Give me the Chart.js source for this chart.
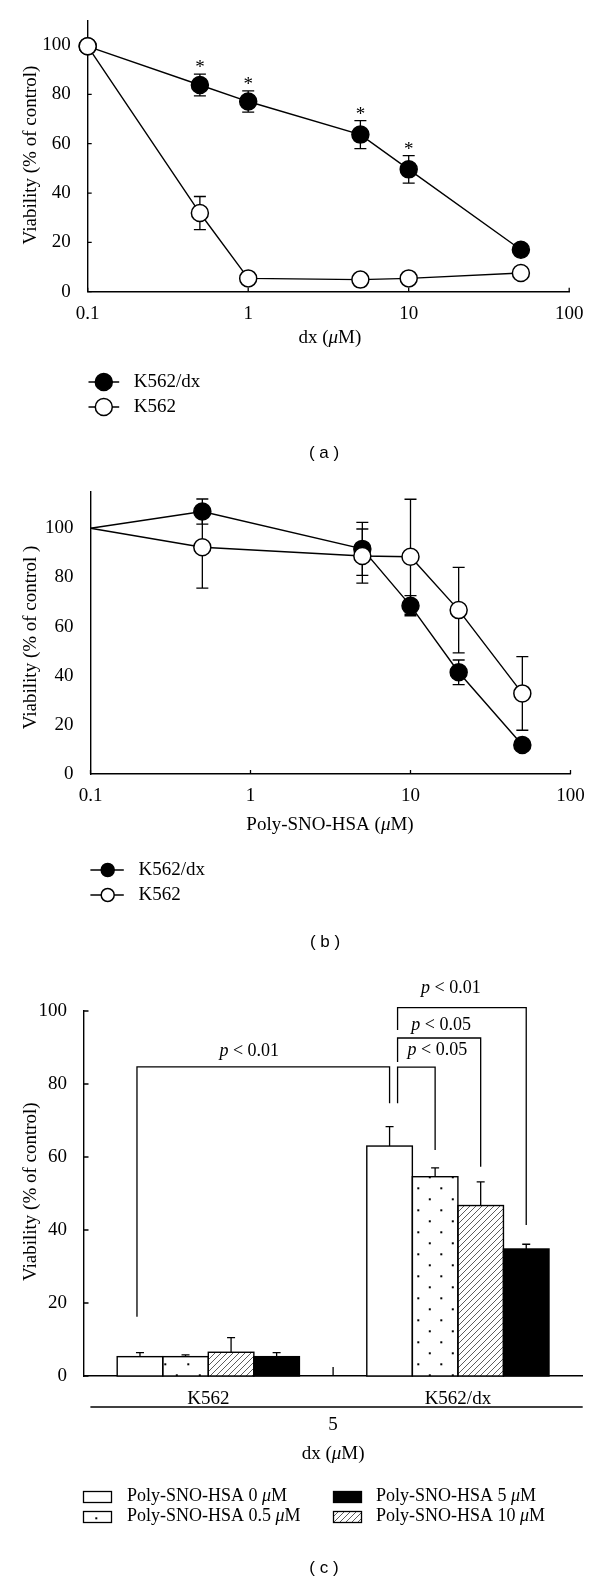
<!DOCTYPE html>
<html>
<head>
<meta charset="utf-8">
<script src="https://cdn.jsdelivr.net/npm/chart.js@4.4.0/dist/chart.umd.min.js"></script>
<style>
body { margin: 0; background: #fff; width: 600px; height: 1584px; position: relative; }
canvas { position: absolute; left: 0; }
</style>
</head>
<body>
<canvas id="graficoA" width="600" height="470" style="top:0px"></canvas>
<canvas id="graficoB" width="600" height="480" style="top:470px"></canvas>
<canvas id="graficoC" width="600" height="634" style="top:950px"></canvas>
<script>
// (a) dx
var dosesA = [0.1, 0.5, 1, 5, 10, 50];
var k562dxA = [99.5, 83.8, 77.1, 63.7, 49.6, 17.0];
var k562dxErroA = [0, 4.4, 4.3, 5.7, 5.6, 0];
var k562A = [99.5, 31.9, 5.4, 4.9, 5.4, 7.6];
var k562ErroA = [0, 6.7, 0, 0, 0, 0];
var estrelasA = [false, true, true, true, true, false];

// (b) Poly-SNO-HSA
var dosesB = [0.1, 0.5, 5, 10, 20, 50];
var k562dxB = [100, 106.8, 91.6, 68.5, 41.4, 11.8];
var k562dxErroB = [0, 5.1, 10.8, 4.1, 5, 0];
var k562B = [100, 92.3, 88.7, 88.4, 66.7, 32.8];
var k562ErroB = [0, 16.7, 11, 23.4, 17.4, 15];

// (c) barras
var linhasC = ['K562', 'K562/dx'];
var sno0 = [5.3, 63.0];
var sno05 = [5.3, 54.6];
var sno10 = [6.5, 46.7];
var sno5 = [5.3, 34.8];
var sno0Erro = [1.1, 5.3];
var sno05Erro = [0.5, 2.4];
var sno10Erro = [4.0, 6.5];
var sno5Erro = [1.1, 1.3];

var ticksLog = [0.1, 1, 10, 100];
var ticksY = [0, 20, 40, 60, 80, 100];

var serif = '"Liberation Serif", "Times New Roman", serif';
var sans = '"Liberation Sans", Arial, sans-serif';

function pares(xs, ys) {
    return xs.map(function (x, i) { return { x: x, y: ys[i] }; });
}

function textoRico(ctx, partes, x, y, tam, alinhar) {
    var total = 0;
    partes.forEach(function (p) {
        ctx.font = (p[1] ? 'italic ' : '') + tam + 'px ' + serif;
        total += ctx.measureText(p[0]).width;
    });
    var cx = alinhar === 'center' ? x - total / 2 : x;
    ctx.textAlign = 'left';
    ctx.textBaseline = 'middle';
    ctx.fillStyle = '#000';
    partes.forEach(function (p) {
        ctx.font = (p[1] ? 'italic ' : '') + tam + 'px ' + serif;
        ctx.fillText(p[0], cx, y);
        cx += ctx.measureText(p[0]).width;
    });
}

function tituloVertical(ctx, texto, x, y) {
    ctx.save();
    ctx.translate(x, y);
    ctx.rotate(-Math.PI / 2);
    ctx.font = '19px ' + serif;
    ctx.fillStyle = '#000';
    ctx.textAlign = 'center';
    ctx.textBaseline = 'middle';
    ctx.fillText(texto, 0, 0);
    ctx.restore();
}

function rotuloPainel(ctx, texto, x, y) {
    ctx.font = '17px ' + sans;
    ctx.fillStyle = '#000';
    ctx.textAlign = 'center';
    ctx.textBaseline = 'middle';
    ctx.fillText(texto, x, y);
}

function pluginTicks(tamX, tamY, soMeio) {
    return {
        id: 'ticksDentro',
        beforeDatasetsDraw: function (chart) {
            var ctx = chart.ctx, a = chart.chartArea;
            var sx = chart.scales.x, sy = chart.scales.y;
            ctx.save();
            ctx.strokeStyle = '#000';
            ctx.lineWidth = 1.3;
            ctx.beginPath();
            if (tamY > 0) {
                sy.ticks.forEach(function (t) {
                    var y = sy.getPixelForValue(t.value);
                    ctx.moveTo(a.left, y);
                    ctx.lineTo(a.left + tamY, y);
                });
            }
            if (soMeio) {
                var xm = (a.left + a.right) / 2;
                ctx.moveTo(xm, a.bottom);
                ctx.lineTo(xm, a.bottom - tamX);
            } else {
                sx.ticks.forEach(function (t) {
                    var x = sx.getPixelForValue(t.value);
                    ctx.moveTo(x, a.bottom);
                    ctx.lineTo(x, a.bottom - tamX);
                });
            }
            ctx.stroke();
            ctx.restore();
        }
    };
}

var barrasErro = {
    id: 'barrasErro',
    beforeDatasetsDraw: function (chart) {
        var ctx = chart.ctx, sy = chart.scales.y;
        ctx.save();
        ctx.strokeStyle = '#000';
        ctx.lineWidth = 1.3;
        chart.data.datasets.forEach(function (ds, i) {
            if (!ds.erros) return;
            var meta = chart.getDatasetMeta(i);
            meta.data.forEach(function (el, j) {
                var e = ds.erros[j];
                if (!e) return;
                var v = typeof ds.data[j] === 'object' ? ds.data[j].y : ds.data[j];
                var yt = sy.getPixelForValue(v + e);
                var yb = ds.soCima ? sy.getPixelForValue(v) : sy.getPixelForValue(v - e);
                var w = ds.capa || 6;
                ctx.beginPath();
                ctx.moveTo(el.x, yb); ctx.lineTo(el.x, yt);
                ctx.moveTo(el.x - w, yt); ctx.lineTo(el.x + w, yt);
                if (!ds.soCima) { ctx.moveTo(el.x - w, yb); ctx.lineTo(el.x + w, yb); }
                ctx.stroke();
            });
        });
        ctx.restore();
    }
};

function legendaCirculos(ctx, linhas, x1, x2, xc, r, xt) {
    linhas.forEach(function (l) {
        ctx.strokeStyle = '#000';
        ctx.lineWidth = 1.5;
        ctx.beginPath();
        ctx.moveTo(x1, l.y); ctx.lineTo(x2, l.y);
        ctx.stroke();
        ctx.beginPath();
        ctx.arc(xc, l.y, r, 0, Math.PI * 2);
        ctx.fillStyle = l.cheio ? '#000' : '#fff';
        ctx.fill();
        ctx.stroke();
        ctx.font = '19px ' + serif;
        ctx.fillStyle = '#000';
        ctx.textAlign = 'left';
        ctx.textBaseline = 'middle';
        ctx.fillText(l.texto, xt, l.y);
    });
}

function configLinha(doses, serieDx, erroDx, serieK, erroK, raios, yMax, area, alturaCanvas, tickY, desenhar) {
    var fonteTick = { family: serif, size: 19 };
    return {
        type: 'line',
        data: {
            datasets: [
                {
                    label: 'K562', data: pares(doses, serieK), erros: erroK,
                    borderColor: '#000', borderWidth: 1.4, tension: 0, clip: false,
                    pointRadius: raios, pointBackgroundColor: '#fff', pointBorderColor: '#000', pointBorderWidth: 1.5
                },
                {
                    label: 'K562/dx', data: pares(doses, serieDx), erros: erroDx,
                    borderColor: '#000', borderWidth: 1.4, tension: 0, clip: false,
                    pointRadius: raios, pointBackgroundColor: '#000', pointBorderColor: '#000', pointBorderWidth: 1.5
                }
            ]
        },
        options: {
            responsive: false,
            animation: false,
            layout: { padding: { left: 0, top: area.top, right: 600 - area.right, bottom: 0 } },
            plugins: { legend: { display: false }, tooltip: { enabled: false } },
            scales: {
                x: {
                    type: 'logarithmic', min: 0.1, max: 100,
                    grid: { display: false },
                    border: { color: '#000', width: 1.4 },
                    ticks: { font: fonteTick, color: '#000', padding: 3, autoSkip: false, maxRotation: 0,
                        callback: function (v) { return String(v); } },
                    afterBuildTicks: function (s) { s.ticks = ticksLog.map(function (v) { return { value: v, major: true }; }); },
                    afterFit: function (s) { s.height = alturaCanvas - area.bottom; }
                },
                y: {
                    min: 0, max: yMax,
                    grid: { display: false },
                    border: { color: '#000', width: 1.4 },
                    ticks: { font: fonteTick, color: '#000', padding: 9 },
                    afterBuildTicks: function (s) { s.ticks = ticksY.map(function (v) { return { value: v }; }); },
                    afterFit: function (s) { s.width = area.left; }
                }
            }
        },
        plugins: [pluginTicks(4, tickY, false), barrasErro, { id: 'extras', afterDraw: desenhar }]
    };
}

// (a)
new Chart(document.getElementById('graficoA').getContext('2d'),
    configLinha(dosesA, k562dxA, k562dxErroA, k562A, k562ErroA, 8.5, 110,
        { left: 87.7, right: 569.2, top: 18.1, bottom: 291.7 }, 470, 4,
        function (chart) {
            var ctx = chart.ctx;
            var meta = chart.getDatasetMeta(1), sy = chart.scales.y;
            ctx.save();
            estrelasA.forEach(function (s, i) {
                if (!s) return;
                var yt = sy.getPixelForValue(k562dxA[i] + k562dxErroA[i]);
                ctx.font = '19px ' + serif;
                ctx.fillStyle = '#000';
                ctx.textAlign = 'center';
                ctx.textBaseline = 'alphabetic';
                ctx.fillText('*', meta.data[i].x, yt - 1);
            });
            tituloVertical(ctx, 'Viability (% of control)', 30.8, 155);
            textoRico(ctx, [['dx (', false], ['\u03bc', true], ['M)', false]], 329.8, 338, 19, 'center');
            legendaCirculos(ctx, [
                { y: 382, texto: 'K562/dx', cheio: true },
                { y: 407, texto: 'K562', cheio: false }
            ], 88.5, 119.2, 103.8, 8.5, 133.8);
            rotuloPainel(ctx, '( a )', 324, 453);
            ctx.restore();
        }));

// (b)
new Chart(document.getElementById('graficoB').getContext('2d'),
    configLinha(dosesB, k562dxB, k562dxErroB, k562B, k562ErroB, [0, 8.5, 8.5, 8.5, 8.5, 8.5], 115,
        { left: 90.5, right: 570.5, top: 21.4, bottom: 304 }, 480, 0,
        function (chart) {
            var ctx = chart.ctx;
            ctx.save();
            tituloVertical(ctx, 'Viability (% of control )', 30.8, 167.5);
            textoRico(ctx, [['Poly-SNO-HSA (', false], ['\u03bc', true], ['M)', false]], 330, 355, 19, 'center');
            legendaCirculos(ctx, [
                { y: 400, texto: 'K562/dx', cheio: true },
                { y: 425, texto: 'K562', cheio: false }
            ], 90.4, 123.8, 107.7, 6.5, 138.5);
            rotuloPainel(ctx, '( b )', 325, 472);
            ctx.restore();
        }));

// (c)
var ctxC = document.getElementById('graficoC').getContext('2d');

function padraoPontos() {
    var t = document.createElement('canvas');
    t.width = 23; t.height = 22;
    var g = t.getContext('2d');
    g.fillStyle = '#fff';
    g.fillRect(0, 0, 23, 22);
    g.fillStyle = '#000';
    g.fillRect(3.3, 17.3, 2, 2);
    g.fillRect(14.8, 6.3, 2, 2);
    return ctxC.createPattern(t, 'repeat');
}

function padraoHachura() {
    var t = document.createElement('canvas');
    t.width = 6; t.height = 6;
    var g = t.getContext('2d');
    g.fillStyle = '#fff';
    g.fillRect(0, 0, 6, 6);
    g.strokeStyle = '#333';
    g.lineWidth = 0.8;
    g.beginPath();
    g.moveTo(0, 6); g.lineTo(6, 0);
    g.moveTo(-1, 1); g.lineTo(1, -1);
    g.moveTo(5, 7); g.lineTo(7, 5);
    g.stroke();
    return ctxC.createPattern(t, 'repeat');
}

var pontos = padraoPontos();
var hachura = padraoHachura();

// colchetes de significancia (valores no eixo y)
var colchetes = [
    { de: [0, 0], dx: -3, ate: [0, 1], topo: 84.7, baixoEsq: 16.2, baixoDir: 74.7, texto: '0.01', yTexto: 89.0, dxTexto: -14 },
    { de: [0, 1], dx: 8, ate: [1, 1], topo: 84.6, baixoEsq: 74.7, baixoDir: 61.9, texto: '0.05', yTexto: 89.3, dxTexto: 21 },
    { de: [0, 1], dx: 8, ate: [2, 1], topo: 92.6, baixoEsq: 86.0, baixoDir: 57.3, texto: '0.05', yTexto: 96.2, dxTexto: 2 },
    { de: [0, 1], dx: 8, ate: [3, 1], topo: 100.9, baixoEsq: 94.8, baixoDir: 41.4, texto: '0.01', yTexto: 106.2, dxTexto: -11 }
];

var fonteTickC = { family: serif, size: 19 };

new Chart(ctxC, {
    type: 'bar',
    data: {
        labels: linhasC,
        datasets: [
            { label: 'Poly-SNO-HSA 0 \u03bcM', data: sno0, erros: sno0Erro, soCima: true, capa: 4,
              backgroundColor: '#fff', borderWidth: 0 },
            { label: 'Poly-SNO-HSA 0.5 \u03bcM', data: sno05, erros: sno05Erro, soCima: true, capa: 4,
              backgroundColor: pontos, borderWidth: 0 },
            { label: 'Poly-SNO-HSA 10 \u03bcM', data: sno10, erros: sno10Erro, soCima: true, capa: 4,
              backgroundColor: hachura, borderWidth: 0 },
            { label: 'Poly-SNO-HSA 5 \u03bcM', data: sno5, erros: sno5Erro, soCima: true, capa: 4,
              backgroundColor: '#000', borderWidth: 0 }
        ]
    },
    options: {
        responsive: false,
        animation: false,
        layout: { padding: { left: 0, top: 61, right: 17.3, bottom: 0 } },
        datasets: { bar: { categoryPercentage: 0.73, barPercentage: 1 } },
        plugins: { legend: { display: false }, tooltip: { enabled: false } },
        scales: {
            x: {
                grid: { display: false },
                border: { color: '#000', width: 1.4 },
                ticks: { font: fonteTickC, color: '#000', padding: 4 },
                afterFit: function (s) { s.height = 634 - 426; }
            },
            y: {
                min: 0, max: 100,
                grid: { display: false },
                border: { color: '#000', width: 1.4 },
                ticks: { font: fonteTickC, color: '#000', padding: 8.5, stepSize: 20 },
                afterFit: function (s) { s.width = 83.5; }
            }
        }
    },
    plugins: [pluginTicks(9, 5, true), barrasErro, {
        id: 'contornos',
        afterDatasetsDraw: function (chart) {
            var ctx = chart.ctx;
            ctx.save();
            ctx.strokeStyle = '#000';
            ctx.lineWidth = 1.4;
            chart.data.datasets.forEach(function (ds, i) {
                chart.getDatasetMeta(i).data.forEach(function (el) {
                    var p = el.getProps(['x', 'y', 'base', 'width'], true);
                    ctx.strokeRect(p.x - p.width / 2, p.y, p.width, p.base - p.y);
                });
            });
            ctx.restore();
        }
    }, {
        id: 'extrasC',
        afterDraw: function (chart) {
            var ctx = chart.ctx, sy = chart.scales.y, a = chart.chartArea;
            ctx.save();
            ctx.strokeStyle = '#000';
            ctx.lineWidth = 1.3;
            colchetes.forEach(function (c) {
                var xe = chart.getDatasetMeta(c.de[0]).data[c.de[1]].x + c.dx;
                var xd = chart.getDatasetMeta(c.ate[0]).data[c.ate[1]].x;
                var yt = sy.getPixelForValue(c.topo);
                ctx.beginPath();
                ctx.moveTo(xe, sy.getPixelForValue(c.baixoEsq));
                ctx.lineTo(xe, yt);
                ctx.lineTo(xd, yt);
                ctx.lineTo(xd, sy.getPixelForValue(c.baixoDir));
                ctx.stroke();
                textoRico(ctx, [['p', true], [' < ' + c.texto, false]], (xe + xd) / 2 + c.dxTexto,
                    sy.getPixelForValue(c.yTexto), 18, 'center');
            });

            // segunda linha do eixo x
            ctx.beginPath();
            ctx.moveTo(90.4, 457); ctx.lineTo(a.right, 457);
            ctx.stroke();
            var xm = (a.left + a.right) / 2;
            textoRico(ctx, [['5', false]], xm, 475, 19, 'center');
            textoRico(ctx, [['dx (', false], ['\u03bc', true], ['M)', false]], xm, 504, 19, 'center');
            tituloVertical(ctx, 'Viability (% of control)', 30.8, 241.7);

            // legenda em duas colunas
            var posLeg = [
                { ds: 0, x: 83.5, y: 547, xt: 127 },
                { ds: 1, x: 83.5, y: 567, xt: 127 },
                { ds: 3, x: 333.5, y: 547, xt: 376 },
                { ds: 2, x: 333.5, y: 567, xt: 376 }
            ];
            posLeg.forEach(function (p) {
                var ds = chart.data.datasets[p.ds];
                ctx.fillStyle = ds.backgroundColor;
                ctx.fillRect(p.x, p.y - 5.5, 28, 11);
                ctx.lineWidth = 1.3;
                ctx.strokeRect(p.x, p.y - 5.5, 28, 11);
                var partes = ds.label.split('\u03bc');
                textoRico(ctx, [[partes[0], false], ['\u03bc', true], [partes[1], false]], p.xt, p.y - 1, 18, 'left');
            });
            rotuloPainel(ctx, '( c )', 324, 618);
            ctx.restore();
        }
    }]
});
</script>
</body>
</html>
